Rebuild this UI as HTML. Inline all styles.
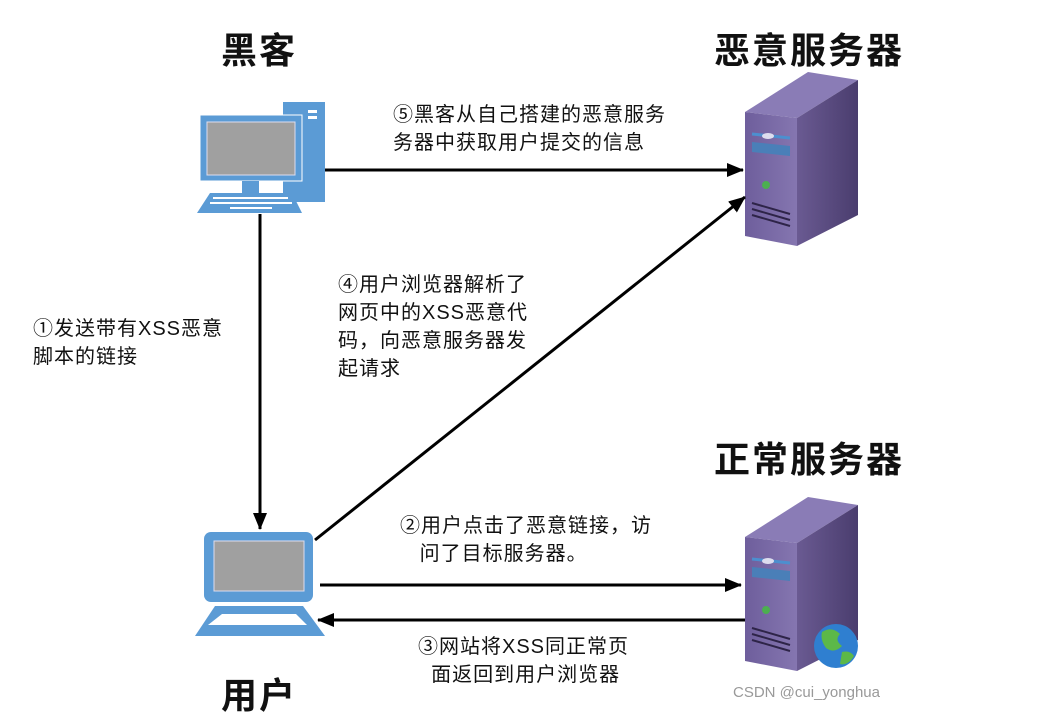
<!DOCTYPE html>
<html><head><meta charset="utf-8"><style>
body{margin:0;width:1047px;height:721px;background:#fff;overflow:hidden;position:relative;font-family:"Liberation Sans","Noto Sans CJK SC",sans-serif}
.t{position:absolute;font-weight:bold;font-size:36px;letter-spacing:2px;color:#111;white-space:nowrap}
.l{position:absolute;font-size:20px;letter-spacing:1px;color:#111;line-height:28px;white-space:nowrap}
</style></head><body>
<svg width="1047" height="721" style="position:absolute;left:0;top:0">
<defs>
<marker id="a" markerWidth="18" markerHeight="14" refX="16" refY="7" orient="auto" markerUnits="userSpaceOnUse"><path d="M0,0 L17,7 L0,14 Z" fill="#000"/></marker>
<linearGradient id="sf" x1="0" x2="1"><stop offset="0" stop-color="#6a5a92"/><stop offset="1" stop-color="#4a3d6e"/></linearGradient>
<linearGradient id="ff" x1="0" x2="1"><stop offset="0" stop-color="#6e5e9c"/><stop offset="1" stop-color="#8576b0"/></linearGradient>
<g id="srv">
<polygon points="745,112 797,118 858,80 808,72" fill="#8a7cb6"/>
<polygon points="797,118 858,80 858,215 797,246" fill="url(#sf)"/>
<polygon points="745,112 797,118 797,246 745,236" fill="url(#ff)"/>
<line x1="752" y1="134" x2="790" y2="138" stroke="#4c8fcf" stroke-width="3"/>
<ellipse cx="768" cy="136" rx="6" ry="3" fill="#dde"/>
<polygon points="752,142 790,146 790,156 752,152" fill="#4a7fb8"/>
<circle cx="766" cy="185" r="4" fill="#4caf50"/>
<path d="M752,203 L790,214 M752,209 L790,220 M752,215 L790,226" stroke="#2e2448" stroke-width="2"/>
</g>
</defs>
<use href="#srv"/>
<use href="#srv" transform="translate(0,425)"/>
<circle cx="836" cy="646" r="22" fill="#2f7fd0"/>
<path d="M822,632 q10,-6 18,2 q-6,6 2,12 q-8,8 -16,2 q-6,-8 -4,-16Z M842,652 q8,-2 12,4 q-6,10 -14,8Z" fill="#5cb848"/>
<rect x="283" y="102" width="42" height="100" fill="#5b9bd5"/>
<rect x="308" y="110" width="9" height="3" fill="#fff"/><rect x="308" y="116" width="9" height="3" fill="#fff"/>
<rect x="200" y="115" width="102" height="66" fill="#5b9bd5" stroke="#fff" stroke-width="1"/>
<rect x="207" y="122" width="88" height="53" fill="#a0a0a0" stroke="#dde" stroke-width="1"/>
<rect x="242" y="181" width="17" height="12" fill="#5b9bd5"/>
<polygon points="210,193 292,193 302,213 197,213" fill="#5b9bd5"/>
<g fill="#fff"><rect x="213" y="197" width="75" height="2"/><rect x="210" y="202" width="82" height="2"/><rect x="230" y="207" width="42" height="2"/></g>
<rect x="204" y="532" width="109" height="70" rx="7" fill="#5b9bd5"/>
<rect x="214" y="541" width="90" height="50" fill="#a0a0a0" stroke="#dde"/>
<polygon points="215,606 303,606 325,636 195,636" fill="#5b9bd5"/>
<polygon points="222,614 296,614 307,625 208,625" fill="#fff"/>
<g stroke="#000" stroke-width="3" fill="none" marker-end="url(#a)">
<line x1="260" y1="214" x2="260" y2="529"/>
<line x1="325" y1="170" x2="743" y2="170"/>
<line x1="315" y1="540" x2="745" y2="197"/>
<line x1="320" y1="585" x2="741" y2="585"/>
<line x1="745" y1="620" x2="318" y2="620"/>
</g>
</svg>
<div class="t" style="left:221px;top:22px">黑客</div>
<div class="t" style="left:714px;top:22px">恶意服务器</div>
<div class="t" style="left:714px;top:431px">正常服务器</div>
<div class="t" style="left:221px;top:667px">用户</div>
<div class="l" style="left:393px;top:101px">⑤黑客从自己搭建的恶意服务<br>务器中获取用户提交的信息</div>
<div class="l" style="left:338px;top:271px">④用户浏览器解析了<br>网页中的XSS恶意代<br>码，向恶意服务器发<br>起请求</div>
<div class="l" style="left:33px;top:315px">①发送带有XSS恶意<br>脚本的链接</div>
<div class="l" style="left:400px;top:512px">②用户点击了恶意链接，访<br>&nbsp;&nbsp;&nbsp;问了目标服务器。</div>
<div class="l" style="left:418px;top:633px">③网站将XSS同正常页<br>&nbsp;&nbsp;面返回到用户浏览器</div>
<div style="position:absolute;left:733px;top:684px;font-size:15px;color:#999">CSDN @cui_yonghua</div>
</body></html>
